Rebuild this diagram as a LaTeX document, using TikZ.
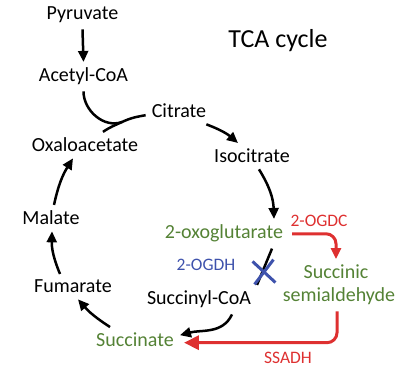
\documentclass[tikz,border=0pt]{standalone}
\usepackage{fontspec}
\setmainfont{Carlito}
\usepackage{xcolor}
\usepackage{tikz}
\usetikzlibrary{arrows.meta}
\usetikzlibrary{shapes.misc}
\usetikzlibrary{calc}
\definecolor{tcagreen}{RGB}{84,130,53}
\definecolor{tcared}{RGB}{222,48,48}
\definecolor{tcablue}{RGB}{62,82,172}
\tikzstyle{met} = [anchor=base, inner sep=6pt, font=\fontsize{20}{24}\selectfont]
\tikzstyle{grn} = [met, text=tcagreen]
\tikzstyle{enz} = [anchor=base, inner sep=2pt, font=\fontsize{17.5}{20}\selectfont]
\tikzstyle{arr} = [line width=2.5pt, -{Triangle[length=11pt,width=10pt]}]
\tikzstyle{redarr} = [line width=3pt, draw=tcared, rounded corners=10pt]

\begin{document}
\begin{tikzpicture}[x=1pt,y=1pt]
		\useasboundingbox (0,0) rectangle (400,-371);
		\node[met] (pyr) at (82.5,-20) {Pyruvate};
		\node[met] (acc) at (83.5,-82) {Acetyl-CoA};
		\node[met] (cit) at (179,-118) {Citrate};
		\node[met] (iso) at (252,-163) {Isocitrate};
		\node[grn] (ogl) at (224,-239) {2-oxoglutarate};
		\node[met] (sca) at (199,-305) {Succinyl-CoA};
		\node[grn] (suc) at (135,-347) {Succinate};
		\node[met] (fum) at (73,-293) {Fumarate};
		\node[met] (mal) at (51,-225) {Malate};
		\node[met] (oaa) at (85,-152) {Oxaloacetate};
		\node[grn] (ssa1) at (336,-279) {Succinic};
		\node[grn] (ssa2) at (339,-302) {semialdehyde};
		\node[anchor=base, font=\fontsize{26}{30}\selectfont] (ttl) at (278,-48) {TCA cycle};
		\node[enz, text=tcared] (ogdc) at (319,-227) {2-OGDC};
		\node[enz, text=tcablue] (ogdh) at (206,-271) {2-OGDH};
		\node[enz, text=tcared] (ssadh) at (288,-364) {SSADH};
		\coordinate (j) at (122,-122);
		% cycle
		\draw[arr] (pyr.south) -- (acc.north);
		\draw[line width=2.5pt] (acc.south) to[out=-90,in=200] (j);
		\draw[line width=2.5pt] ([xshift=18pt]oaa.north) to[out=35,in=205] (j) to[out=25,in=190] ([yshift=-4pt]cit.west);
		\draw[arr] ([xshift=-6pt]cit.south east) to[bend left=10] ([xshift=-14pt]iso.north);
		\draw[arr] ([xshift=7pt]iso.south) to[bend left=15] ([xshift=50pt]ogl.north);
		\draw[line width=2.5pt] ([xshift=48pt]ogl.south) -- ([xshift=58pt]sca.north);
		\draw[arr] ([xshift=33pt]sca.south) to[out=-115,in=15] ([yshift=5pt]suc.east);
		\draw[arr] ([xshift=-25pt]suc.north) to[bend left=8] ([xshift=5pt]fum.south);
		\draw[arr] ([xshift=-13pt]fum.north) to[bend left=12] ([xshift=1pt]mal.south);
		\draw[arr] ([xshift=3pt]mal.north) to[bend left=10] ([xshift=-12pt]oaa.south);
		\node[cross out, draw=tcablue, line width=3pt, minimum width=18pt, minimum height=20pt, inner sep=0pt, rotate=5] (blk) at (264,-272) {};
		% shunt
		\draw[redarr, -{Triangle[length=11pt,width=10pt]}] ([xshift=3pt]ogl.east) -| (ssa1.north);
		\draw[redarr, -{Triangle[length=15pt,width=14pt]}] ([xshift=-2pt]ssa2.south) |- ([xshift=4pt,yshift=-2.5pt]suc.east);
	%	\node at (0,0) {};
	\end{tikzpicture}
\end{document}
